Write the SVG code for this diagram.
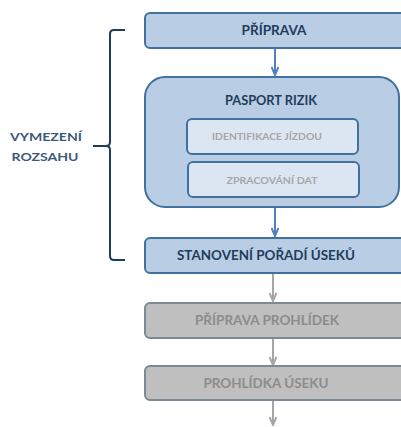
<svg xmlns="http://www.w3.org/2000/svg" width="401" height="427" viewBox="0 0 401 427">
<defs>
<style>
.blue{fill:#b9cde5;stroke:#41719c;stroke-width:2}
.inner{fill:#dce6f2;stroke:#41719c;stroke-width:2}
.gray{fill:#bfbfbf;stroke:#7b8a93;stroke-width:2}
.t{font-family:Lato,"Open Sans","Liberation Sans",sans-serif;font-weight:bold;text-anchor:middle}
.tb{fill:#1f3d5c;font-size:13px}
.ti{fill:#a6a6a6;font-size:10px}
.tg{fill:#8c8c8c;font-size:13px}
.ta{stroke:#4f81bd;stroke-width:2;fill:none}
.tga{stroke:#a6a6a6;stroke-width:2;fill:none}
</style>
<marker id="ab" markerWidth="10" markerHeight="8" refX="9" refY="4" orient="auto" markerUnits="userSpaceOnUse"><path d="M1,0.5 L9,4 L1,7.5" fill="none" stroke="#4f81bd" stroke-width="2"/></marker>
<marker id="ag" markerWidth="10" markerHeight="8" refX="9" refY="4" orient="auto" markerUnits="userSpaceOnUse"><path d="M1,0.5 L9,4 L1,7.5" fill="none" stroke="#a6a6a6" stroke-width="2"/></marker>
</defs>
<rect width="401" height="427" fill="#ffffff"/>
<g id="connectors">
<line class="ta" x1="275" y1="49" x2="275" y2="75" marker-end="url(#ab)"/>
<line class="ta" x1="275" y1="208" x2="275" y2="236" marker-end="url(#ab)"/>
<line class="tga" x1="273" y1="274" x2="273" y2="301" marker-end="url(#ag)"/>
<line class="tga" x1="273" y1="339" x2="273" y2="365" marker-end="url(#ag)"/>
<line class="tga" x1="273" y1="401" x2="273" y2="425" marker-end="url(#ag)"/>
</g>
<g id="bracket">
<path d="M125,30 L114,30 Q110,30 110,34 L110,142 Q110,146 106,146 L93,146 M106,146 Q110,146 110,150 L110,256 Q110,260 114,260 L125,260" fill="none" stroke="#1f3d5c" stroke-width="2"/>
<text class="t" x="46" y="141" fill="#3a5a7c" font-size="12" textLength="72" lengthAdjust="spacingAndGlyphs">VYMEZENÍ</text>
<text class="t" x="45" y="161" fill="#3a5a7c" font-size="12" textLength="67" lengthAdjust="spacingAndGlyphs">ROZSAHU</text>
</g>
<g id="priprava">
<rect class="blue" x="145" y="13" width="262" height="35" rx="5"/>
<text class="t tb" x="274" y="35" textLength="65" lengthAdjust="spacingAndGlyphs">PŘÍPRAVA</text>
</g>
<g id="pasport">
<rect class="blue" x="145" y="77" width="254" height="130" rx="20"/>
<text class="t tb" x="271" y="105" textLength="92" lengthAdjust="spacingAndGlyphs">PASPORT RIZIK</text>
</g>
<g id="identifikace">
<rect class="inner" x="187" y="119" width="171" height="35" rx="5"/>
<text class="t ti" x="267" y="140" textLength="110" lengthAdjust="spacingAndGlyphs">IDENTIFIKACE JÍZDOU</text>
</g>
<g id="zpracovani">
<rect class="inner" x="188" y="162" width="171" height="35" rx="5"/>
<text class="t ti" x="272" y="184" textLength="91" lengthAdjust="spacingAndGlyphs">ZPRACOVÁNÍ DAT</text>
</g>
<g id="stanoveni">
<rect class="blue" x="145" y="238" width="262" height="35" rx="5"/>
<text class="t tb" x="266" y="260" textLength="178" lengthAdjust="spacingAndGlyphs">STANOVENÍ POŘADÍ ÚSEKŮ</text>
</g>
<g id="priprava-prohlidek">
<rect class="gray" x="145" y="303" width="262" height="35" rx="5"/>
<text class="t tg" x="267" y="325" textLength="144" lengthAdjust="spacingAndGlyphs">PŘÍPRAVA PROHLÍDEK</text>
</g>
<g id="prohlidka">
<rect class="gray" x="145" y="366" width="262" height="34" rx="5"/>
<text class="t tg" x="266" y="388" textLength="125" lengthAdjust="spacingAndGlyphs">PROHLÍDKA ÚSEKU</text>
</g>
</svg>
